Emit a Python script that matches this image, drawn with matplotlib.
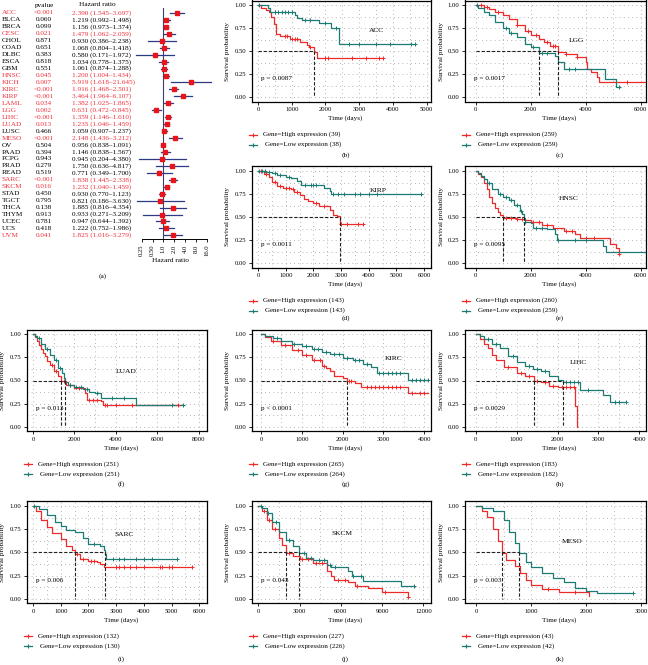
import numpy as np
import matplotlib
matplotlib.use('Agg')
import matplotlib.pyplot as plt
from matplotlib.lines import Line2D

plt.rcParams['font.family'] = ['Liberation Serif', 'DejaVu Serif']

# ---------------- Forest plot data ----------------
cancers = ["ACC", "BLCA", "BRCA", "CESC", "CHOL", "COAD", "DLBC", "ESCA", "GBM", "HNSC", "KICH",
           "KIRC", "KIRP", "LAML", "LGG", "LIHC", "LUAD", "LUSC", "MESO", "OV", "PAAD", "PCPG",
           "PRAD", "READ", "SARC", "SKCM", "STAD", "TGCT", "THCA", "THYM", "UCEC", "UCS", "UVM"]
pvalues = ["<0.001", "0.060", "0.099", "0.021", "0.871", "0.651", "0.383", "0.818", "0.551", "0.045",
           "0.007", "<0.001", "<0.001", "0.034", "0.002", "<0.001", "0.013", "0.466", "<0.001", "0.504",
           "0.394", "0.943", "0.279", "0.519", "<0.001", "0.016", "0.450", "0.795", "0.138", "0.913",
           "0.781", "0.418", "0.041"]
hr = [2.390, 1.219, 1.156, 1.479, 0.930, 1.068, 0.580, 1.034, 1.061, 1.200, 5.919, 1.916, 3.464,
      1.382, 0.631, 1.359, 1.235, 1.059, 2.148, 0.956, 1.146, 0.945, 1.750, 0.771, 1.838, 1.232,
      0.930, 0.821, 1.885, 0.933, 0.947, 1.222, 1.825]
hr_low = [1.545, 0.992, 0.973, 1.062, 0.386, 0.804, 0.171, 0.778, 0.874, 1.004, 1.618, 1.468, 1.964,
          1.025, 0.472, 1.146, 1.046, 0.907, 1.436, 0.838, 0.838, 0.204, 0.636, 0.349, 1.445, 1.040,
          0.770, 0.186, 0.816, 0.271, 0.644, 0.752, 1.016]
hr_high = [3.697, 1.498, 1.374, 2.059, 2.238, 1.418, 1.972, 1.375, 1.288, 1.434, 21.645, 2.501, 6.107,
           1.865, 0.845, 1.610, 1.459, 1.237, 3.212, 1.091, 1.567, 4.380, 4.817, 1.700, 2.338, 1.459,
           1.123, 3.630, 4.354, 3.209, 1.392, 1.986, 3.279]
significant = ["ACC", "CESC", "HNSC", "KICH", "KIRC", "KIRP", "LAML", "LGG", "LIHC", "LUAD", "MESO",
               "SARC", "SKCM", "UVM"]
hr_ticks = [0.25, 0.5, 1.0, 2.0, 4.0, 8.0, 16.0]
hr_tick_labels = ["0.25", "0.50", "1.0", "2.0", "4.0", "8.0", "16.0"]

# ---------------- KM data (time in days, survival) ----------------
acc_hi_t = [0, 100, 250, 320, 380, 480, 540, 650, 950, 1250, 1450, 1520, 1650, 1750, 3700]
acc_hi_s = [1, .97, .95, .92, .87, .79, .69, .66, .63, .60, .57, .54, .49, .42, .42]
acc_hi_c = [800, 870, 1000, 1100, 1150, 1550, 2000, 2080, 2800, 3200, 3600, 3700]
acc_lo_t = [0, 300, 340, 1100, 1150, 1300, 1800, 2150, 2400, 4650]
acc_lo_s = [1, .97, .92, .89, .865, .84, .80, .75, .58, .58]
acc_lo_c = [20, 500, 600, 700, 800, 900, 1000, 1400, 1550, 2000, 2300, 2700, 3000, 3500, 3900, 4550, 4650]

lgg_hi_t = [0, 300, 500, 700, 1000, 1200, 1500, 1800, 2000, 2300, 2500, 2700, 3000, 3300, 3700, 4000,
            4050, 4200, 4400, 4500, 6300]
lgg_hi_s = [1, .98, .96, .93, .89, .85, .78, .72, .68, .63, .60, .56, .49, .47, .43, .38, .31, .27,
            .22, .16, .16]
lgg_hi_c = [200, 400, 800, 1500, 1900, 2200, 2600, 2800, 2900, 3300, 3700, 5500]
lgg_lo_t = [0, 100, 300, 500, 700, 1000, 1200, 1500, 1800, 2000, 2300, 2900, 3000, 3200, 4700, 5100, 5250]
lgg_lo_s = [1, .97, .93, .89, .82, .75, .70, .65, .58, .54, .48, .45, .38, .30, .20, .11, .11]
lgg_lo_c = [50, 1100, 1300, 2100, 2400, 2600, 3400, 3600, 5200]

kirp_hi_t = [0, 200, 400, 500, 700, 900, 1200, 1300, 1500, 1650, 1800, 2000, 2200, 2600, 2700, 2850,
             2950, 3780]
kirp_hi_s = [1, .97, .93, .88, .84, .82, .80, .77, .74, .70, .67, .65, .62, .58, .52, .51, .42, .42]
kirp_hi_c = [100, 300, 600, 800, 1000, 1100, 1250, 1400, 2100, 2400, 3000, 3200, 3600, 3780]
kirp_lo_t = [0, 300, 500, 700, 1000, 1200, 1400, 1550, 2300, 2400, 2600, 2650, 5900]
kirp_lo_s = [1, .99, .98, .96, .93, .92, .89, .85, .85, .82, .78, .745, .745]
kirp_lo_c = [50, 150, 250, 400, 600, 800, 1100, 1700, 1900, 2000, 2100, 2700, 2900, 3100, 3500, 3700,
             4000, 4300, 5900]

hnsc_hi_t = [0, 100, 200, 300, 400, 500, 600, 700, 800, 900, 1000, 1500, 1800, 2000, 2400, 2800, 3200,
             3600, 3800, 4900, 5100, 5200]
hnsc_hi_s = [1, .97, .93, .87, .80, .72, .65, .60, .55, .52, .49, .48, .47, .45, .41, .38, .35, .31,
             .27, .21, .16, .10]
hnsc_hi_c = [1100, 1300, 1500, 1700, 2100, 2300, 2600, 3300, 3500, 4000, 4300, 5200]
hnsc_lo_t = [0, 100, 200, 300, 400, 600, 800, 1000, 1200, 1400, 1600, 1700, 1750, 1800, 2000, 2100,
             2600, 2900, 2950, 4650, 4750, 6200]
hnsc_lo_s = [1, .98, .95, .91, .87, .80, .75, .72, .68, .63, .57, .53, .49, .45, .43, .38, .37, .32,
             .25, .19, .12, .12]
hnsc_lo_c = [500, 900, 1100, 1300, 1500, 1650, 1800, 2200, 2400, 3000, 3600, 4000]

luad_hi_t = [0, 100, 200, 300, 400, 500, 600, 700, 800, 1000, 1200, 1350, 1600, 2000, 2500, 2600,
             3300, 3400, 7100]
luad_hi_s = [1, .97, .93, .88, .84, .80, .76, .71, .67, .60, .55, .49, .45, .42, .36, .29, .28, .23, .23]
luad_hi_c = [900, 1100, 1500, 1800, 2200, 2700, 2900, 3100, 3500, 3600, 4000, 4800, 7000]
luad_lo_t = [0, 100, 200, 400, 600, 800, 1000, 1200, 1400, 1500, 1550, 1700, 2000, 2400, 2700, 3000,
             3300, 5000, 7300]
luad_lo_s = [1, .98, .96, .90, .84, .78, .72, .64, .58, .53, .48, .45, .43, .41, .38, .36, .31, .23, .23]
luad_lo_c = [300, 700, 1100, 1300, 1800, 2100, 2300, 2600, 3100, 3800, 4400, 6700, 7250]

kirc_hi_t = [0, 100, 250, 500, 750, 1000, 1250, 1500, 1600, 1700, 1800, 2000, 2100, 2300, 2450, 3600, 4100]
kirc_hi_s = [1, .97, .93, .88, .83, .78, .72, .66, .63, .60, .55, .53, .49, .47, .425, .37, .37]
kirc_hi_c = [300, 600, 900, 1100, 1300, 1450, 1550, 2150, 2200, 2600, 2700, 2800, 2900, 3000, 3100,
             3200, 3300, 3400, 3700, 3900, 4000]
kirc_lo_t = [0, 100, 300, 500, 750, 1000, 1250, 1500, 1700, 2000, 2250, 2500, 2700, 2850, 3600, 4100]
kirc_lo_s = [1, .98, .96, .93, .90, .87, .84, .81, .79, .74, .72, .68, .65, .58, .51, .51]
kirc_lo_c = [400, 800, 1100, 1300, 1400, 1600, 1800, 1900, 2100, 2300, 2400, 2600, 2900, 3000, 3100,
             3200, 3300, 3400, 3700, 3800, 3900, 4000, 4100]

lihc_hi_t = [0, 100, 200, 300, 400, 500, 700, 1000, 1200, 1420, 1600, 1800, 2000, 2430, 2470]
lihc_hi_s = [1, .95, .90, .85, .78, .72, .65, .58, .55, .495, .48, .44, .43, .22, 0.0]
lihc_hi_c = [800, 1100, 1300, 1500, 1700, 1900, 2100, 2200, 2300, 2400]
lihc_lo_t = [0, 100, 200, 400, 600, 800, 1000, 1200, 1400, 1600, 1800, 2000, 2130, 2550, 3110, 3270, 3680]
lihc_lo_s = [1, .98, .95, .89, .85, .77, .70, .66, .62, .60, .55, .51, .48, .40, .34, .27, .27]
lihc_lo_c = [300, 500, 900, 1300, 1500, 1700, 2200, 2300, 2400, 2500, 2750, 3400, 3500, 3680]

sarc_hi_t = [0, 100, 300, 500, 700, 1000, 1200, 1400, 1500, 1700, 2000, 2300, 2400, 2550, 5750]
sarc_hi_s = [1, .95, .85, .77, .71, .64, .57, .52, .48, .43, .41, .40, .37, .345, .345]
sarc_hi_c = [1600, 1800, 2100, 2200, 3000, 3100, 3300, 3500, 3700, 4000, 4600, 4650, 4900, 5000, 5750]
sarc_lo_t = [0, 200, 500, 800, 1000, 1200, 1500, 1800, 2000, 2400, 2550, 2600, 2650, 5200]
sarc_lo_s = [1, .97, .90, .83, .78, .74, .72, .65, .59, .57, .52, .48, .43, .43]
sarc_lo_c = [50, 2200, 2900, 3100, 3300, 3700, 4000, 4300, 5200]

skcm_hi_t = [0, 300, 600, 1000, 1500, 1750, 2000, 2500, 3000, 4000, 5000, 5300, 5500, 6500, 7000, 8000,
             9000, 10900]
skcm_hi_s = [1, .95, .85, .75, .65, .58, .495, .46, .43, .38, .30, .25, .20, .18, .14, .11, .075, .02]
skcm_hi_c = [400, 800, 1200, 2200, 3200, 3600, 4200, 4600, 5800, 6300, 7200, 9200, 10900]
skcm_lo_t = [0, 300, 600, 1000, 1500, 2000, 2500, 2980, 3500, 4000, 5000, 5300, 6500, 6800, 7600,
             10400, 11300]
skcm_lo_s = [1, .98, .92, .83, .72, .63, .57, .49, .44, .42, .36, .345, .30, .25, .195, .135, .135]
skcm_lo_c = [200, 700, 1300, 2200, 3300, 3800, 4400, 4800, 5200, 5600, 6900, 7500, 11300]

meso_hi_t = [0, 100, 200, 300, 400, 470, 550, 700, 800, 900, 1000, 1200, 1500, 2050]
meso_hi_s = [1, .95, .88, .75, .62, .49, .42, .35, .28, .20, .15, .10, .07, 0.03]
meso_hi_c = [1300, 1800]
meso_lo_t = [0, 100, 300, 500, 600, 700, 780, 900, 1000, 1200, 1400, 1600, 1800, 2000, 2200, 2850]
meso_lo_s = [1, .98, .95, .85, .72, .60, .49, .40, .34, .28, .22, .18, .12, .08, .06, .06]
meso_lo_c = [2850]

panel_names = ["ACC", "LGG", "KIRP", "HNSC", "LUAD", "KIRC", "LIHC", "SARC", "SKCM", "MESO"]
panel_letters = ["(b)", "(c)", "(d)", "(e)", "(f)", "(g)", "(h)", "(i)", "(j)", "(k)"]
p_texts = ["p = 0.0087", "p = 0.0017", "p = 0.0011", "p = 0.0095", "p = 0.013", "p < 0.0001",
           "p = 0.0029", "p = 0.006", "p = 0.043", "p = 0.003"]
n_high = [39, 259, 143, 260, 251, 265, 183, 132, 227, 43]
n_low = [38, 259, 143, 259, 251, 264, 182, 130, 226, 42]
x_maxtick = [5000, 6000, 6000, 6000, 8000, 4000, 4000, 6000, 12000, 3000]
x_step = [1000, 2000, 1000, 2000, 2000, 1000, 1000, 1000, 3000, 1000]
name_xy = [(3520, 0.72), (3670, 0.62), (4330, 0.79), (3370, 0.70), (4500, 0.60), (3240, 0.74),
           (2500, 0.69), (3300, 0.69), (6050, 0.70), (1750, 0.62)]
curves_hi = [(acc_hi_t, acc_hi_s, acc_hi_c), (lgg_hi_t, lgg_hi_s, lgg_hi_c), (kirp_hi_t, kirp_hi_s, kirp_hi_c),
             (hnsc_hi_t, hnsc_hi_s, hnsc_hi_c), (luad_hi_t, luad_hi_s, luad_hi_c), (kirc_hi_t, kirc_hi_s, kirc_hi_c),
             (lihc_hi_t, lihc_hi_s, lihc_hi_c), (sarc_hi_t, sarc_hi_s, sarc_hi_c), (skcm_hi_t, skcm_hi_s, skcm_hi_c),
             (meso_hi_t, meso_hi_s, meso_hi_c)]
curves_lo = [(acc_lo_t, acc_lo_s, acc_lo_c), (lgg_lo_t, lgg_lo_s, lgg_lo_c), (kirp_lo_t, kirp_lo_s, kirp_lo_c),
             (hnsc_lo_t, hnsc_lo_s, hnsc_lo_c), (luad_lo_t, luad_lo_s, luad_lo_c), (kirc_lo_t, kirc_lo_s, kirc_lo_c),
             (lihc_lo_t, lihc_lo_s, lihc_lo_c), (sarc_lo_t, sarc_lo_s, sarc_lo_c), (skcm_lo_t, skcm_lo_s, skcm_lo_c),
             (meso_lo_t, meso_lo_s, meso_lo_c)]

# ---------------- layout (pixels) ----------------
W, H = 648, 665
fig = plt.figure(figsize=(W / 100, H / 100), dpi=100)

RED = "#EE2B2B"
TEAL = "#1C7C74"
FRED = "#F0303C"
NAVY = "#2F3A84"


def fx(x):
    return x / W


def fy(y):
    return 1 - y / H


def add_ax(l, t, r, b):
    return fig.add_axes([l / W, 1 - b / H, (r - l) / W, (b - t) / H])


# ---------------- Forest plot (a) ----------------
row_top, row_step = 13.0, 6.95
n = len(cancers)
row_y = [row_top + i * row_step for i in range(n)]
axis_y = row_y[-1] + 4
axf = add_ax(128.7, 6, 212, axis_y)
axf.set_xscale('log', base=2)
axf.set_xlim(2 ** -3.2, 2 ** 4.49)
axf.set_ylim(axis_y, 6)
axf.plot([1, 1], [8, axis_y], color="#3A3F6B", lw=0.8, zorder=1)
for i in range(n):
    axf.plot([hr_low[i], hr_high[i]], [row_y[i], row_y[i]], color=NAVY, lw=0.9, zorder=2, clip_on=False)
    axf.plot([hr[i]], [row_y[i]], 's', color="#E8141B", ms=3.4, zorder=3, clip_on=False)
for s in ['left', 'top', 'right']:
    axf.spines[s].set_visible(False)
axf.spines['bottom'].set_bounds(0.25, 16)
axf.spines['bottom'].set_linewidth(0.7)
axf.set_yticks([])
axf.set_xticks(hr_ticks)
axf.set_xticklabels(hr_tick_labels, rotation=90, fontsize=4.8)
axf.xaxis.set_minor_locator(matplotlib.ticker.NullLocator())
axf.tick_params(axis='x', length=2, width=0.6, pad=1.5)
axf.set_xlabel("Hazard ratio", fontsize=5.3, labelpad=1.5)

fig.text(fx(44.5), fy(5), "pvalue", fontsize=5.2, ha='center', va='center')
fig.text(fx(97), fy(5), "Hazard ratio", fontsize=5.2, ha='center', va='center')
for i in range(n):
    col = FRED if cancers[i] in significant else "black"
    fig.text(fx(2), fy(row_y[i]), cancers[i], fontsize=5.2, ha='left', va='center', color=col)
    fig.text(fx(44), fy(row_y[i]), pvalues[i], fontsize=5.2, ha='center', va='center', color=col)
    fig.text(fx(72), fy(row_y[i]), "%.3f (%.3f\u2013%.3f)" % (hr[i], hr_low[i], hr_high[i]),
             fontsize=5.2, ha='left', va='center', color=col)
fig.text(fx(103), fy(276), "(a)", fontsize=5.3, ha='center', va='center')

# ---------------- KM panels ----------------
col_lr = {1: (27, 207), 2: (252, 431), 3: (465, 646)}
row_tb = {1: (0.5, 101.6), 2: (166.4, 267.6), 3: (329.7, 431.3), 4: (501.4, 603.3)}
letter_off = {1: 54, 2: 51, 3: 53, 4: 56}
panel_pos = [(2, 1), (3, 1), (2, 2), (3, 2), (1, 3), (2, 3), (3, 3), (1, 4), (2, 4), (3, 4)]
x_lims = [(-180, 5130), (-390, 6200), (-220, 6250), (-390, 6200), (-290, 8410), (-220, 4165),
          (-260, 4160), (-217, 6280), (-460, 12560), (-200, 3090)]


def step_value(t, s, x):
    idx = np.searchsorted(np.asarray(t), x, side='right') - 1
    return np.asarray(s)[np.clip(idx, 0, len(s) - 1)]


def median_time(t, s):
    for ti, si in zip(t, s):
        if si <= 0.5:
            return ti
    return None


for k in range(10):
    c, r = panel_pos[k]
    l, rr = col_lr[c]
    t, b = row_tb[r]
    ax = add_ax(l, t, rr, b)
    ax.set_xlim(*x_lims[k])
    ax.set_ylim(-0.05, 1.05)
    majors = np.arange(0, x_maxtick[k] + 1, x_step[k])
    minors = majors[:-1] + x_step[k] / 2
    for xv in list(majors) + list(minors):
        ax.axvline(xv, color="#9C9C9C", lw=0.6, ls=(0, (1, 4)), zorder=0)
    for yv in np.arange(0, 1.01, 0.125):
        ax.axhline(yv, color="#9C9C9C", lw=0.6, ls=(0, (1, 4)), zorder=0)
    meds = []
    for (tt, ss, cc), colr in ((curves_hi[k], RED), (curves_lo[k], TEAL)):
        ax.step(tt, ss, where='post', color=colr, lw=0.9, zorder=3)
        ax.plot(cc, step_value(tt, ss, cc), '+', color=colr, ms=3.2, mew=0.7, zorder=4)
        m = median_time(tt, ss)
        if m is not None:
            meds.append(m)
    if meds:
        ax.plot([0, max(meds)], [0.5, 0.5], color="#222222", lw=0.8, ls=(0, (3, 1.6)), zorder=5)
        for m in meds:
            ax.plot([m, m], [0.5, 0], color="#222222", lw=0.8, ls=(0, (3, 1.6)), zorder=5)
    ax.set_xticks(majors)
    ax.set_xticklabels([str(int(v)) for v in majors], fontsize=4.8)
    ax.set_yticks([0, 0.25, 0.5, 0.75, 1.0])
    ax.set_yticklabels(["0.00", "0.25", "0.50", "0.75", "1.00"], fontsize=4.8)
    ax.tick_params(length=2, width=0.6, pad=2)
    for sp in ax.spines.values():
        sp.set_linewidth(0.9)
    ax.text(0.05, 0.2, p_texts[k], transform=ax.get_yaxis_transform(), fontsize=5.2, ha='left', va='center')
    ax.text(name_xy[k][0], name_xy[k][1], panel_names[k], fontsize=5.4, ha='center', va='center')
    # axis titles
    fig.text(fx((l + rr) / 2 + 4), fy(b + 17), "Time (days)", fontsize=5.1, ha='center', va='center')
    fig.text(fx(l - 24), fy((t + b) / 2), "Survival probability", fontsize=5.2, ha='center', va='center',
             rotation=90)
    # legend
    for j, (colr, lab) in enumerate(((RED, "Gene=High expression (%d)" % n_high[k]),
                                     (TEAL, "Gene=Low expression (%d)" % n_low[k]))):
        yy = b + 33 + 10 * j
        fig.add_artist(Line2D([fx(l - 3), fx(l + 5)], [fy(yy), fy(yy)], color=colr, lw=0.9))
        fig.add_artist(Line2D([fx(l + 1)], [fy(yy)], color=colr, marker='+', ms=3.2, mew=0.8))
        fig.text(fx(l + 11 + 2 * j), fy(yy), lab, fontsize=5.0, ha='left', va='center')
    fig.text(fx((l + rr) / 2 + 4), fy(b + letter_off[r]), panel_letters[k], fontsize=5.3,
             ha='center', va='center')

fig.savefig("out.png", dpi=100)
